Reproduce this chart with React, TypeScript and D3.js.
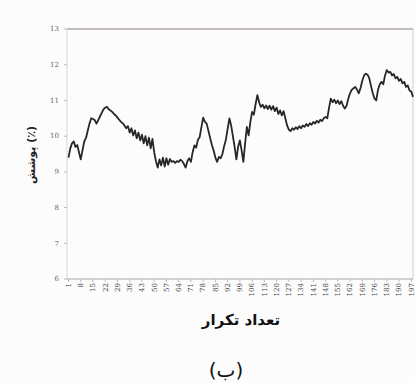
import React from 'react';
import * as d3 from 'd3';

// coverage (%) per repetition
const coverage = [
  9.40, 9.65, 9.80, 9.85, 9.70, 9.75, 9.55, 9.35, 9.60, 9.85,
  9.95, 10.15, 10.35, 10.50, 10.48, 10.45, 10.35, 10.45, 10.55, 10.65,
  10.75, 10.80, 10.82, 10.75, 10.72, 10.68, 10.62, 10.58, 10.52, 10.46,
  10.40, 10.36, 10.30, 10.22, 10.28, 10.10, 10.22, 10.02, 10.16, 9.94,
  10.10, 9.88, 10.04, 9.80, 10.00, 9.74, 9.96, 9.66, 9.92, 9.55,
  9.30, 9.12, 9.35, 9.18, 9.40, 9.15, 9.38, 9.20, 9.36, 9.28,
  9.30, 9.25, 9.30, 9.28, 9.34, 9.30, 9.22, 9.12, 9.30, 9.38,
  9.28, 9.55, 9.74, 9.68, 9.90, 9.97, 10.25, 10.52, 10.40, 10.35,
  10.15, 9.95, 9.75, 9.60, 9.40, 9.28, 9.42, 9.38, 9.50, 9.72,
  9.90, 10.20, 10.50, 10.30, 10.00, 9.70, 9.35, 9.70, 9.88, 9.60,
  9.28, 9.80, 10.26, 10.02, 10.40, 10.68, 10.60, 10.90, 11.15, 10.95,
  10.82, 10.88, 10.78, 10.86, 10.76, 10.85, 10.74, 10.84, 10.70, 10.80,
  10.62, 10.72, 10.58, 10.70, 10.50, 10.30, 10.18, 10.14, 10.22, 10.18,
  10.25, 10.20, 10.28, 10.22, 10.30, 10.26, 10.34, 10.28, 10.36, 10.32,
  10.40, 10.35, 10.43, 10.38, 10.46, 10.42, 10.50, 10.54, 10.50, 10.80,
  11.05, 10.95, 11.02, 10.92, 11.00, 10.90, 10.98, 10.85, 10.77, 10.85,
  11.05, 11.20, 11.30, 11.34, 11.38, 11.30, 11.20, 11.35, 11.55, 11.70,
  11.75, 11.72, 11.62, 11.40, 11.20, 11.05, 11.00, 11.30, 11.45, 11.52,
  11.45, 11.70, 11.85, 11.78, 11.80, 11.70, 11.74, 11.62, 11.66, 11.55,
  11.60, 11.48, 11.52, 11.38, 11.42, 11.28, 11.25, 11.10,
];
const repetitions = coverage.map((_, i) => i + 1);
const xTickLabels = d3.range(1, 198, 7);
const yTicks = [6, 7, 8, 9, 10, 11, 12, 13];

const xTitle = 'تعداد تکرار';
const yTitle = 'پوشش (٪)';
const caption = '(ب)';

const W = 415;
const H = 383;
const margin = { top: 29, right: 2, bottom: 104, left: 67 };

export default function App() {
  const x = d3.scaleLinear()
    .domain([1, repetitions.length])
    .range([margin.left + 1.5, W - margin.right]);
  const y = d3.scaleLinear()
    .domain([6, 13])
    .range([H - margin.bottom, margin.top]);

  const line = d3.line<number>()
    .x((_, i) => x(repetitions[i]))
    .y(d => y(d));

  const plotLeft = margin.left;
  const plotRight = W - margin.right;
  const plotTop = margin.top;
  const plotBottom = H - margin.bottom;

  return (
    <div style={{ position: 'fixed', left: 0, top: 0 }}>
      <svg width={W} height={H} style={{ display: 'block', background: '#fcfcfc' }}>
        {/* frame */}
        <line x1={plotLeft} x2={plotRight} y1={plotTop} y2={plotTop} stroke="#8c7f78" strokeWidth={1} />
        <line x1={plotRight} x2={plotRight} y1={plotTop} y2={plotBottom} stroke="#cfcfcf" strokeWidth={1} />
        <line x1={plotLeft} x2={plotLeft} y1={plotTop} y2={plotBottom} stroke="#d8d8d8" strokeWidth={1} />
        <line x1={plotLeft} x2={plotRight} y1={plotBottom} y2={plotBottom} stroke="#a8a8a8" strokeWidth={1} />

        {/* y axis */}
        {yTicks.map(t => (
          <g key={t} transform={`translate(0,${y(t)})`}>
            <line x1={plotLeft - 3} x2={plotLeft} stroke="#bbb" />
            <text x={plotLeft - 8} dy="0.32em" textAnchor="end" fontSize={7}
              fontFamily="DejaVu Serif" fill="#666">{t}</text>
          </g>
        ))}

        {/* x axis */}
        {xTickLabels.map(t => (
          <g key={t} transform={`translate(${x(t)},${plotBottom})`}>
            <line y1={0} y2={3} stroke="#bbb" />
            <text transform="rotate(-90)" x={-4} dy="0.33em" textAnchor="end" fontSize={7}
              fontFamily="DejaVu Serif" fill="#444">{t}</text>
          </g>
        ))}

        {/* series */}
        <path d={line(coverage) || ''} fill="none" stroke="#2b2626" strokeWidth={1.8} strokeLinejoin="round" />

        {/* titles */}
        <text x={241} y={325} textAnchor="middle" fontSize={15} fontWeight="bold"
          fontFamily="DejaVu Sans" fill="#111">{xTitle}</text>
        <text transform="translate(35,155) rotate(-90)" textAnchor="middle" fontSize={11}
          fontWeight="bold" fontFamily="DejaVu Sans" fill="#222">{yTitle}</text>
        <text x={226} y={377} textAnchor="middle" fontSize={20}
          fontFamily="DejaVu Sans" fill="#111">{caption}</text>
      </svg>
    </div>
  );
}
